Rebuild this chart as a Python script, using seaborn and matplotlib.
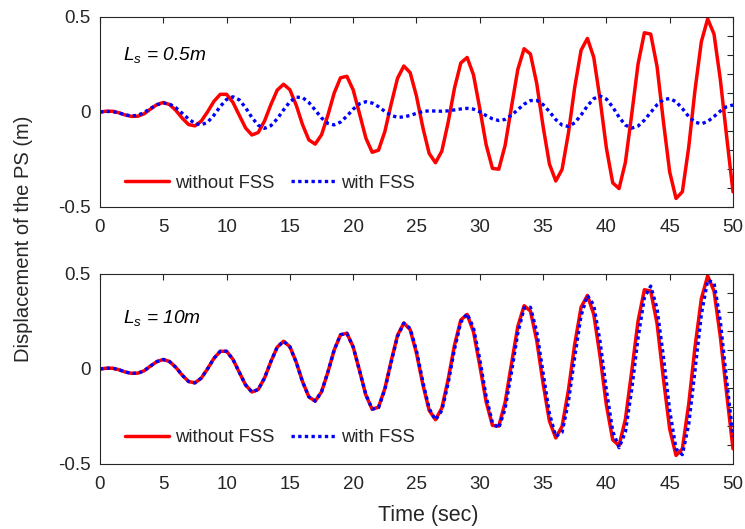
import numpy as np
import pandas as pd
import matplotlib
matplotlib.use("Agg")
import matplotlib.pyplot as plt
from matplotlib.ticker import MultipleLocator
import seaborn as sns

# ---------------- data ----------------
time_sec = [i * 0.5 for i in range(101)]

disp_without_fss = [
    0.000, 0.004, 0.004, -0.004, -0.016, -0.023, -0.022, -0.009, 0.016, 0.039,
    0.050, 0.039, 0.008, -0.033, -0.066, -0.073, -0.048, 0.001, 0.056, 0.093,
    0.093, 0.051, -0.017, -0.084, -0.121, -0.108, -0.047, 0.039, 0.115, 0.146,
    0.117, 0.036, -0.067, -0.147, -0.169, -0.120, -0.017, 0.100, 0.180, 0.188,
    0.116, -0.009, -0.137, -0.212, -0.201, -0.103, 0.042, 0.177, 0.242, 0.207,
    0.083, -0.081, -0.218, -0.267, -0.206, -0.055, 0.125, 0.258, 0.287, 0.196,
    0.018, -0.172, -0.297, -0.301, -0.176, 0.026, 0.223, 0.333, 0.305, 0.149,
    -0.076, -0.274, -0.363, -0.302, -0.111, 0.131, 0.325, 0.387, 0.288, 0.066,
    -0.190, -0.373, -0.403, -0.265, -0.012, 0.252, 0.417, 0.410, 0.240, -0.049,
    -0.316, -0.455, -0.420, -0.186, 0.116, 0.370, 0.490, 0.410, 0.170, -0.130,
    -0.420,
]

# with FSS, L_s = 0.5 m
disp_with_fss_05 = [
    0.000, 0.003, 0.002, -0.005, -0.015, -0.021, -0.017, -0.002, 0.019, 0.038,
    0.047, 0.042, 0.022, -0.007, -0.037, -0.060, -0.068, -0.054, -0.017, 0.029,
    0.066, 0.080, 0.064, 0.023, -0.029, -0.070, -0.086, -0.072, -0.036, 0.011,
    0.054, 0.078, 0.076, 0.050, 0.010, -0.031, -0.060, -0.068, -0.053, -0.022,
    0.015, 0.043, 0.054, 0.047, 0.028, 0.003, -0.018, -0.028, -0.026, -0.018,
    -0.007, 0.003, 0.006, 0.005, 0.004, 0.006, 0.011, 0.016, 0.019, 0.015,
    0.001, -0.019, -0.036, -0.045, -0.039, -0.018, 0.012, 0.041, 0.060, 0.061,
    0.039, 0.002, -0.040, -0.069, -0.076, -0.057, -0.016, 0.032, 0.070, 0.084,
    0.068, 0.026, -0.027, -0.069, -0.085, -0.074, -0.043, -0.002, 0.038, 0.065,
    0.071, 0.054, 0.018, -0.024, -0.054, -0.062, -0.050, -0.024, 0.005, 0.028,
    0.037,
]

# with FSS, L_s = 10 m
disp_with_fss_10 = [
    0.000, 0.004, 0.004, -0.004, -0.016, -0.023, -0.022, -0.009, 0.016, 0.039,
    0.050, 0.039, 0.008, -0.033, -0.066, -0.073, -0.048, 0.001, 0.056, 0.093,
    0.093, 0.051, -0.017, -0.084, -0.121, -0.108, -0.047, 0.039, 0.115, 0.146,
    0.117, 0.036, -0.067, -0.147, -0.169, -0.120, -0.017, 0.100, 0.180, 0.188,
    0.116, -0.008, -0.135, -0.211, -0.203, -0.109, 0.035, 0.171, 0.241, 0.213,
    0.096, -0.067, -0.208, -0.268, -0.219, -0.076, 0.104, 0.246, 0.291, 0.217,
    0.050, -0.144, -0.284, -0.311, -0.209, -0.018, 0.188, 0.321, 0.325, 0.195,
    -0.021, -0.234, -0.355, -0.333, -0.173, 0.064, 0.281, 0.387, 0.336, 0.144,
    -0.112, -0.328, -0.414, -0.332, -0.108, 0.164, 0.375, 0.436, 0.318, 0.066,
    -0.219, -0.421, -0.451, -0.292, -0.007, 0.287, 0.467, 0.454, 0.251, -0.062,
    -0.356,
]

panel_labels = ["0.5m", "10m"]
series_names = ["without FSS", "with FSS"]
x_ticks = [0, 5, 10, 15, 20, 25, 30, 35, 40, 45, 50]
y_ticks = [-0.5, 0, 0.5]
y_ticklabels = ["-0.5", "0", "0.5"]

# ---------------- style ----------------
sns.set_style("white")
plt.rcParams["font.family"] = ["Liberation Sans", "DejaVu Sans"]
plt.rcParams["mathtext.fontset"] = "custom"
plt.rcParams["mathtext.it"] = "Liberation Sans:italic"
plt.rcParams["mathtext.rm"] = "Liberation Sans"

dark = "#262626"
fig = plt.figure(figsize=(7.45, 5.29), dpi=100)
ax_top = fig.add_axes([0.1342, 0.6087, 0.8497, 0.3592])
ax_bot = fig.add_axes([0.1342, 0.1229, 0.8497, 0.3592])

panels = [
    (ax_top, disp_with_fss_05, panel_labels[0], 0.774, 0.126),
    (ax_bot, disp_with_fss_10, panel_labels[1], 0.742, 0.137),
]

for ax, blue_vals, lab, ty, ly in panels:
    df = pd.DataFrame({
        "t": time_sec * 2,
        "d": disp_without_fss + blue_vals,
        "s": [series_names[0]] * len(time_sec) + [series_names[1]] * len(time_sec),
    })
    sns.lineplot(data=df[df.s == series_names[0]], x="t", y="d", ax=ax,
                 color=(1, 0, 0), linewidth=2.5, label=series_names[0])
    sns.lineplot(data=df[df.s == series_names[1]], x="t", y="d", ax=ax,
                 color=(0, 0, 1), linewidth=2.4, linestyle=(0, (1.0, 1.0)),
                 label=series_names[1])
    ax.set_xlim(0, 50)
    ax.set_ylim(-0.5, 0.5)
    ax.set_xticks(x_ticks)
    ax.set_xticklabels([str(v) for v in x_ticks])
    ax.set_yticks(y_ticks)
    ax.set_yticklabels(y_ticklabels)
    ax.yaxis.set_minor_locator(MultipleLocator(0.1))
    ax.tick_params(which="both", direction="in", top=True, right=True,
                   length=4, width=0.8, color=dark, labelcolor=dark,
                   labelsize=13.5)
    ax.tick_params(axis="x", pad=9)
    ax.tick_params(axis="y", pad=7)
    ax.set_xlabel("")
    ax.set_ylabel("")
    for sp in ax.spines.values():
        sp.set_color(dark)
        sp.set_linewidth(0.8)
    ax.text(0.036, ty, r"$L_s$ = " + lab, transform=ax.transAxes,
            fontsize=13.8, fontstyle="italic", color="black", va="baseline")
    ax.legend(loc="center left", bbox_to_anchor=(0.0395, ly), frameon=False,
              ncol=2, fontsize=13.3, handlelength=2.4, handletextpad=0.3,
              columnspacing=0.9, borderpad=0, borderaxespad=0)

fig.text(0.575, 0.026, "Time (sec)", ha="center", va="center",
         fontsize=15.5, color=dark)
fig.text(0.032, 0.548, "Displacement of the PS (m)", ha="center",
         va="center", rotation=90, fontsize=14.5, color=dark)

fig.savefig("out.png", dpi=100)
